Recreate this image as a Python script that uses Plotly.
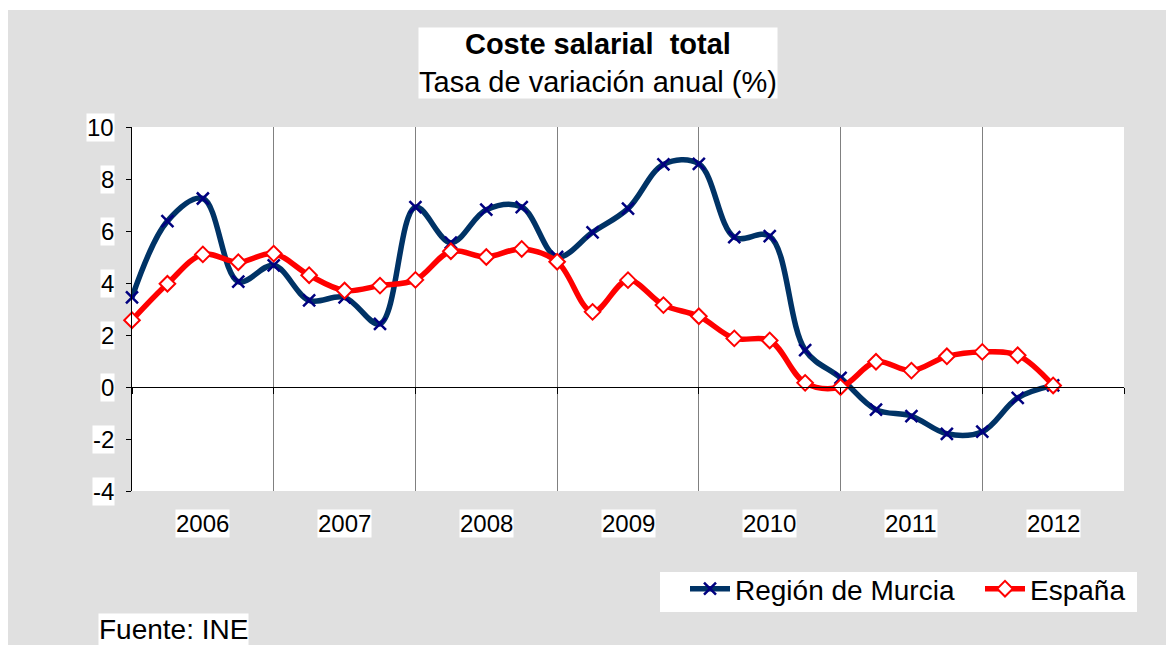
import plotly.graph_objects as go

# Quarterly periods 2006 T1 .. 2012 T3
periods = [f"{y}T{q}" for y in range(2006, 2013) for q in range(1, 5)][:27]
years = ["2006", "2007", "2008", "2009", "2010", "2011", "2012"]

murcia = [3.45, 6.38, 7.25, 4.05, 4.68, 3.33, 3.45, 2.43, 6.92, 5.55, 6.82, 6.92,
          5.0, 5.95, 6.86, 8.56, 8.58, 5.76, 5.8, 1.42, 0.35, -0.87, -1.12, -1.8,
          -1.72, -0.42, 0.06]
espana = [2.57, 3.97, 5.1, 4.8, 5.13, 4.3, 3.71, 3.9, 4.12, 5.22, 5.0, 5.31,
          4.82, 2.89, 4.11, 3.15, 2.72, 1.87, 1.79, 0.16, 0.0, 0.97, 0.63, 1.18,
          1.35, 1.22, 0.06]
y_ticks = [10, 8, 6, 4, 2, 0, -2, -4]

xpos = list(range(len(periods)))
FONT = "Arial, Liberation Sans, sans-serif"

fig = go.Figure()
fig.add_trace(go.Scatter(
    x=xpos, y=murcia, name="Región de Murcia", mode="lines+markers",
    line=dict(color="#003366", width=5.5, shape="spline", smoothing=1.0),
    marker=dict(symbol="x-thin", size=12, color="#000080",
                line=dict(color="#000080", width=2.5)),
    cliponaxis=False, legendwidth=240))
fig.add_trace(go.Scatter(
    x=xpos, y=espana, name="España", mode="lines+markers",
    line=dict(color="#ff0000", width=5.5, shape="spline", smoothing=1.0),
    marker=dict(symbol="diamond", size=12, color="white",
                line=dict(color="#ff0000", width=2)),
    cliponaxis=False, legendwidth=100))

# figure placed at page offset (8, 8)
W, H = 1166, 637
L, R, T, B = 124, 50, 119, 154
pw, ph = W - L - R, H - T - B

# helpers converting reference-page pixels to paper fractions
def px_x(p):
    return (p - 8 - L) / pw

def px_y(p):
    return (H - B - (p - 8)) / ph

annotations = []
annotations.append(dict(
    text="<b>Coste salarial\u00a0\u00a0total</b><br>Tasa de variación anual (%)",
    xref="paper", yref="paper", x=px_x(597.5), y=px_y(63.5),
    xanchor="center", yanchor="middle", showarrow=False,
    font=dict(family=FONT, size=29, color="black"),
    bgcolor="white", borderpad=0))
for v in y_ticks:
    annotations.append(dict(
        text=str(v), xref="paper", yref="y", x=px_x(115), y=v,
        xanchor="right", yanchor="middle", showarrow=False,
        font=dict(family=FONT, size=24, color="black"),
        bgcolor="white", borderpad=0))
for i, yr in enumerate(years):
    annotations.append(dict(
        text=yr, xref="x", yref="paper", x=2 + 4 * i, y=px_y(523),
        xanchor="center", yanchor="middle", showarrow=False,
        font=dict(family=FONT, size=24, color="black"),
        bgcolor="white", borderpad=0))
annotations.append(dict(
    text="Fuente: INE", xref="paper", yref="paper", x=px_x(98), y=px_y(629),
    xanchor="left", yanchor="middle", showarrow=False,
    font=dict(family=FONT, size=28, color="black"),
    bgcolor="white", borderpad=0))

shapes = [
    dict(type="rect", xref="paper", yref="paper", x0=-0.3, x1=1.2,
         y0=px_y(10), y1=px_y(0), fillcolor="white", line=dict(width=0), layer="below"),
    # legend box
    dict(type="rect", xref="paper", yref="paper", x0=px_x(660), x1=px_x(1137),
         y0=px_y(612), y1=px_y(572), fillcolor="white", line=dict(width=0), layer="below"),
]

fig.update_layout(
    width=W, height=H,
    margin=dict(l=L, r=R, t=T, b=B, pad=0, autoexpand=False),
    paper_bgcolor="#e0e0e0", plot_bgcolor="white",
    font=dict(family=FONT, color="black"),
    showlegend=True,
    legend=dict(orientation="h", x=px_x(685), y=px_y(564), xanchor="left", yanchor="top",
                bgcolor="rgba(0,0,0,0)", font=dict(family=FONT, size=28, color="black"),
                borderwidth=0, itemwidth=40, tracegroupgap=0),
    xaxis=dict(range=[0, 28], anchor="free", position=4 / 14,
               tickvals=[0, 4, 8, 12, 16, 20, 24, 28], showticklabels=False,
               ticks="outside", ticklen=6, tickcolor="black",
               showline=True, linecolor="black", linewidth=1,
               showgrid=True, gridcolor="#808080", gridwidth=1, zeroline=False),
    yaxis=dict(range=[-4, 10], tickvals=y_ticks, showticklabels=False,
               ticks="outside", ticklen=5, tickcolor="black",
               showline=True, linecolor="black", linewidth=1,
               showgrid=False, zeroline=False),
    annotations=annotations,
    shapes=shapes,
)

fig.write_html("out.html")
